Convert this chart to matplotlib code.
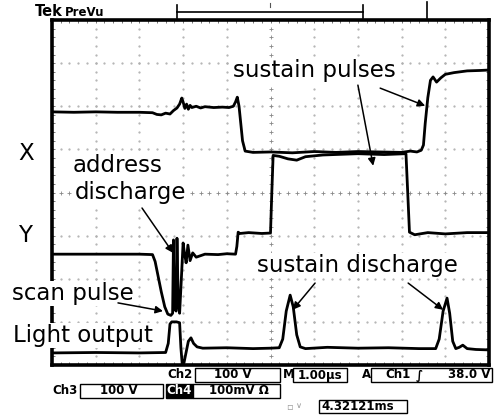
import numpy as np
import matplotlib.pyplot as plt
from matplotlib.patches import Rectangle

plt.rcParams['font.family'] = ['DejaVu Sans']

# ---- traces: time in us (1 div = 1.00 us), level in screen divisions ----
x_t = [0, 0.5, 1.0, 1.5, 2.0, 2.3, 2.4, 2.5, 2.6, 2.7, 2.78, 2.86, 2.92, 2.97, 3.0,
       3.04, 3.08, 3.12, 3.16, 3.2, 3.3, 3.4, 3.5, 3.7, 3.9, 4.05, 4.15, 4.2, 4.24, 4.28,
       4.32, 4.36, 4.42, 4.6, 5.0, 5.5, 6.0, 6.5, 7.0, 7.5, 8.0, 8.2, 8.35, 8.45, 8.5,
       8.54, 8.6, 8.66, 8.72, 8.8, 8.9, 9.0, 9.2, 9.5, 9.8, 10]
x_v = [5.87, 5.86, 5.87, 5.86, 5.86, 5.85, 5.81, 5.80, 5.84, 5.82, 5.9, 5.96, 6.05, 6.19, 6.1,
       5.95, 6.05, 5.93, 6.02, 5.97, 6.0, 5.96, 5.99, 5.97, 5.98, 5.97, 6.0, 6.1, 6.21, 6.0,
       5.6, 5.2, 4.96, 4.93, 4.94, 4.92, 4.95, 4.93, 4.95, 4.94, 4.93, 4.96, 4.94, 4.98, 5.1,
       5.6, 6.2, 6.6, 6.68, 6.56, 6.66, 6.74, 6.78, 6.82, 6.83, 6.84]

y_t = [0, 1.0, 2.0, 2.3, 2.36, 2.42, 2.5, 2.58, 2.65, 2.72, 2.76, 2.78, 2.80, 2.84, 2.86,
       2.89, 2.92, 2.96, 3.0, 3.03, 3.07, 3.11, 3.16, 3.22, 3.3, 3.5, 3.8, 4.0, 4.2, 4.23,
       4.26, 4.3, 4.5, 4.8, 5.0, 5.03, 5.06, 5.2, 5.4, 5.6, 5.8, 6.2, 7.0, 7.6, 8.1,
       8.14, 8.18, 8.3, 8.6, 9.0, 9.5, 10]
y_v = [2.57, 2.57, 2.57, 2.56, 2.4, 2.1, 1.7, 1.35, 1.18, 1.15, 1.2, 2.9, 1.3, 1.25, 2.94,
       1.4, 1.2, 2.0, 2.83, 2.6, 2.37, 2.78, 2.42, 2.6, 2.5, 2.57, 2.56, 2.58, 2.57, 2.75,
       3.08, 3.05, 3.07, 3.05, 3.06, 4.0, 4.86, 4.84, 4.78, 4.75, 4.83, 4.87, 4.9, 4.88, 4.9,
       4.0, 3.08, 3.02, 3.07, 3.04, 3.07, 3.07]

l_t = [0, 1.0, 2.0, 2.6, 2.66, 2.70, 2.74, 2.85, 2.92, 2.95, 2.98, 3.02, 3.07, 3.12, 3.18,
       3.24, 3.32, 3.45, 4.0, 4.6, 5.0, 5.2, 5.28, 5.36, 5.45, 5.52, 5.6, 5.68, 5.8, 6.3,
       7.0, 7.7, 8.4, 8.78, 8.86, 8.95, 9.04, 9.1, 9.17, 9.24, 9.32, 9.4, 9.5, 9.7, 10]
l_v = [0.28, 0.29, 0.28, 0.29, 0.5, 0.95, 1.0, 1.0, 0.98, 0.4, 0.02, 0.05, 0.3, 0.55, 0.63,
       0.5, 0.42, 0.39, 0.4, 0.38, 0.39, 0.40, 0.6, 1.25, 1.62, 1.35, 0.7, 0.42, 0.38, 0.41,
       0.39, 0.4, 0.38, 0.38, 0.6, 1.25, 1.55, 1.2, 0.55, 0.38, 0.41, 0.46, 0.38, 0.36, 0.35]

W, H = 495, 417


def fx(px):
    return px / W


def fy(py):
    return 1 - py / H


fig = plt.figure(figsize=(W / 100, H / 100), dpi=100)
ax = fig.add_axes([fx(52), fy(365), 437 / W, 345 / H])
ax.set_xlim(0, 10)
ax.set_ylim(0, 8)

# --- graticule (faint dotted, centre lines with small crosses) ---
fine = np.arange(0, 10.001, 0.2)
fine_y = np.arange(0, 8.001, 0.2)
for gx in range(1, 10):
    if gx != 5:
        ax.plot([gx] * len(fine_y), fine_y, ls='none', marker='.', ms=1.2, color='#b0b0b0', zorder=1)
for gy in range(1, 8):
    if gy != 4:
        ax.plot(fine, [gy] * len(fine), ls='none', marker='.', ms=1.2, color='#b0b0b0', zorder=1)
ax.plot(fine, [4] * len(fine), ls='none', marker='+', ms=3.5, mew=0.6, color='#888888', zorder=1)
ax.plot([5] * len(fine_y), fine_y, ls='none', marker='+', ms=3.5, mew=0.6, color='#888888', zorder=1)

ax.set_xticks(range(0, 11))
ax.set_yticks(range(0, 9))
ax.set_xticks(fine, minor=True)
ax.set_yticks(fine_y, minor=True)
ax.tick_params(which='both', direction='in', length=2.5, width=0.7, top=True, right=True,
               labelbottom=False, labelleft=False, color='#777777')
for sp in ax.spines.values():
    sp.set_linewidth(2.6)

# --- traces ---
ax.plot(x_t, x_v, color='black', lw=2.0, zorder=4)
ax.plot(y_t, y_v, color='black', lw=2.0, zorder=4)
ax.plot(l_t, l_v, color='black', lw=2.0, zorder=4)

# --- labels ---
lab = dict(fontsize=16.5, color='black', ha='left', va='baseline', clip_on=False, zorder=6,
           bbox=dict(facecolor='white', edgecolor='none', pad=0.5))
ax.text(-0.78, 4.75, 'X', **lab)
ax.text(-0.78, 2.85, 'Y', **lab)
ax.text(4.14, 6.68, 'sustain pulses', **lab)
ax.text(0.48, 4.48, 'address', **lab)
ax.text(0.53, 3.85, 'discharge', **lab)
ax.text(4.69, 2.16, 'sustain discharge', **lab)
ax.text(-0.92, 1.51, 'scan pulse', **lab)
ax.text(-0.89, 0.53, 'Light output', **lab)

arrows = [((7.00, 6.49), (7.35, 4.62)),
          ((7.51, 6.42), (8.54, 6.01)),
          ((2.06, 3.64), (2.77, 2.60)),
          ((1.51, 1.44), (2.54, 1.25)),
          ((6.02, 1.90), (5.51, 1.28)),
          ((8.15, 1.90), (8.95, 1.28))]
for tail, head in arrows:
    ax.annotate('', xy=head, xytext=tail, annotation_clip=False, zorder=6,
                arrowprops=dict(arrowstyle='-|>', lw=1.1, color='black', mutation_scale=11,
                                shrinkA=0, shrinkB=0))

# --- top status line ---
fig.text(fx(35), fy(12), 'Tek', fontsize=10.5, fontweight='bold', va='center', ha='left')
fig.text(fx(65), fy(12), 'PreVu', fontsize=8.5, fontweight='bold', va='center', ha='left')
fig.add_artist(plt.Line2D([fx(177), fx(363)], [fy(12), fy(12)], color='black', lw=1.2))
fig.add_artist(plt.Line2D([fx(177), fx(177)], [fy(5), fy(18)], color='black', lw=1.2))
fig.add_artist(plt.Line2D([fx(363), fx(363)], [fy(5), fy(18)], color='black', lw=1.2))
fig.add_artist(plt.Line2D([fx(427), fx(427)], [fy(2), fy(18)], color='black', lw=1.2))
fig.add_artist(plt.Line2D([fx(270), fx(270)], [fy(3), fy(7)], color='#555555', lw=0.8))

# --- bottom readout ---
st = dict(fontsize=8.5, fontweight='bold', va='center')


def box(x0, x1, y0, y1, fc='white'):
    fig.add_artist(Rectangle((fx(x0), fy(y1)), fx(x1) - fx(x0), fy(y0) - fy(y1),
                             transform=fig.transFigure, facecolor=fc, edgecolor='black', lw=1.0))


fig.text(fx(193), fy(375), 'Ch2', ha='right', **st)
box(195, 280, 368, 382)
fig.text(fx(233), fy(375), '100 V', ha='center', **st)
fig.text(fx(283), fy(375), 'M', ha='left', **st)
box(293, 347, 368, 382)
fig.text(fx(320), fy(375), '1.00µs', ha='center', **st)
fig.text(fx(362), fy(375), 'A', ha='left', **st)
box(371, 492, 368, 382)
fig.text(fx(385), fy(375), 'Ch1', ha='left', **st)
fig.text(fx(419), fy(375), '∫', ha='center', **st)
fig.text(fx(490), fy(375), '38.0 V', ha='right', **st)

fig.text(fx(52), fy(391), 'Ch3', ha='left', **st)
box(80, 163, 384, 398)
fig.text(fx(119), fy(391), '100 V', ha='center', **st)
box(166, 193, 384, 398, fc='black')
fig.text(fx(179.5), fy(391), 'Ch4', ha='center', color='white', **st)
box(193, 280, 384, 398)
fig.text(fx(239), fy(391), '100mV Ω', ha='center', **st)

fig.text(fx(289), fy(406), '▫', ha='center', fontsize=7, color='#999999', va='center')
fig.text(fx(299), fy(406), '∨', ha='center', fontsize=6, color='#999999', va='center')
box(319, 407, 400, 413)
fig.text(fx(321), fy(406.5), '4.32121ms', ha='left', **st)

fig.savefig('out.png', dpi=100, facecolor='white')
